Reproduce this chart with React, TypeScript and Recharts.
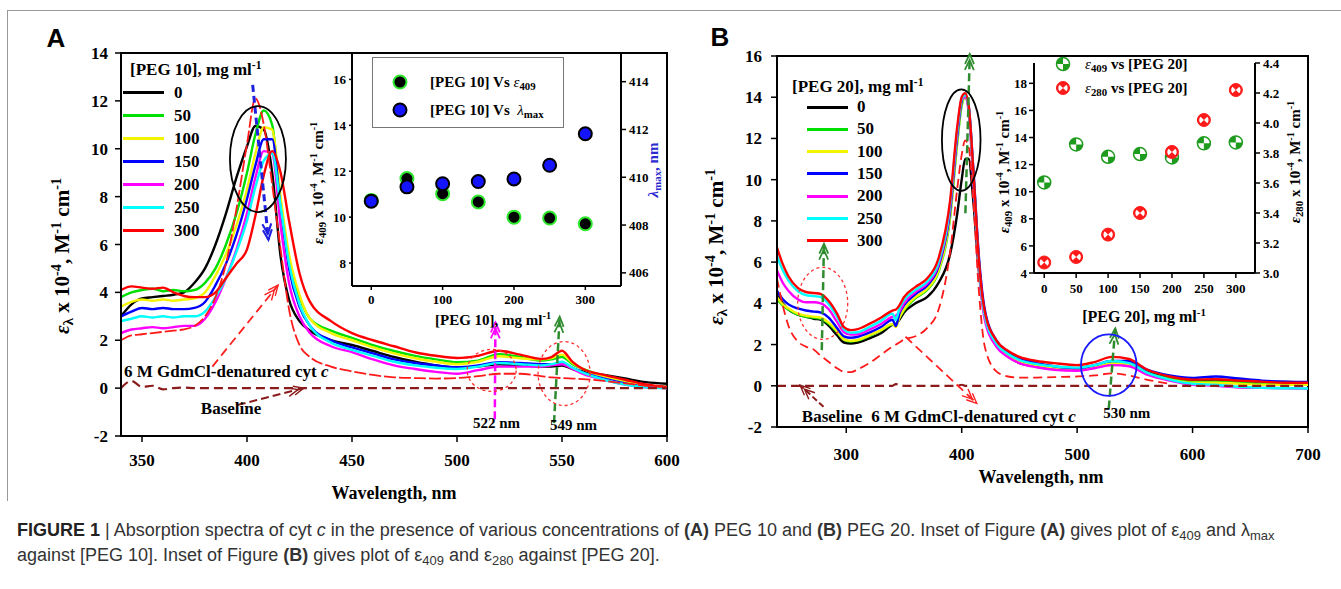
import React from 'react';
import {
  LineChart, Line, XAxis, YAxis, ReferenceArea, ReferenceDot, ReferenceLine,
  ScatterChart, Scatter,
} from 'recharts';

const SERIF = '"Liberation Serif", "Times New Roman", serif';
const SANS = '"Liberation Sans", Arial, sans-serif';

// ---------- panel A: PEG 10 spectra ----------
const A_WAVELENGTH = [340, 345, 350, 355, 360, 365, 370, 375, 380, 385, 390, 395, 400, 404, 408, 412, 416, 420, 425, 430, 440, 450, 460, 470, 480, 490, 500, 510, 520, 530, 540, 545, 550, 555, 560, 570, 580, 590, 600];
const A_PEG_0 = [3.0, 3.5, 3.75, 3.8, 3.85, 3.9, 4.0, 4.4, 5.0, 6.0, 7.3, 8.8, 10.1, 10.95, 10.8, 9.0, 5.5, 3.7, 2.8, 2.4, 2.0, 1.8, 1.55, 1.3, 1.1, 0.95, 0.87, 0.9, 1.0, 0.95, 0.9, 0.9, 0.94, 0.8, 0.7, 0.55, 0.4, 0.25, 0.18];
const A_PEG_50 = [3.8, 4.0, 4.1, 4.15, 4.05, 4.1, 4.05, 4.1, 4.4, 5.0, 6.0, 7.3, 9.0, 10.6, 11.6, 11.0, 7.6, 5.3, 3.8, 2.9, 2.4, 2.1, 1.8, 1.55, 1.35, 1.2, 1.08, 1.15, 1.42, 1.3, 1.15, 1.2, 1.3, 1.0, 0.8, 0.5, 0.3, 0.12, 0.05];
const A_PEG_100 = [3.4, 3.6, 3.7, 3.65, 3.7, 3.65, 3.7, 3.75, 4.0, 4.7, 5.6, 6.8, 8.3, 9.8, 10.9, 10.8, 8.0, 5.6, 3.9, 2.9, 2.3, 2.0, 1.7, 1.45, 1.25, 1.1, 1.0, 1.1, 1.33, 1.25, 1.2, 1.25, 1.4, 1.05, 0.8, 0.5, 0.3, 0.1, 0.0];
const A_PEG_150 = [3.0, 3.2, 3.35, 3.3, 3.35, 3.3, 3.3, 3.35, 3.6, 4.3, 5.2, 6.4, 7.9, 9.3, 10.4, 10.4, 7.5, 5.0, 3.4, 2.6, 2.0, 1.7, 1.45, 1.2, 1.05, 0.95, 0.87, 0.95, 1.08, 1.05, 1.0, 1.0, 1.05, 0.85, 0.65, 0.4, 0.2, 0.05, 0.0];
const A_PEG_200 = [2.3, 2.45, 2.5, 2.55, 2.5, 2.55, 2.6, 2.6, 2.9, 3.6, 4.6, 5.8, 7.3, 8.8, 9.9, 9.8, 6.8, 4.4, 3.0, 2.3, 1.75, 1.5, 1.2, 0.95, 0.8, 0.68, 0.6, 0.75, 0.9, 0.9, 0.9, 0.95, 1.0, 0.8, 0.6, 0.35, 0.15, 0.03, 0.0];
const A_PEG_250 = [2.8, 2.9, 3.0, 2.95, 3.0, 2.95, 3.0, 3.0, 3.2, 3.8, 4.6, 5.7, 7.0, 8.4, 9.5, 9.8, 7.6, 5.2, 3.5, 2.6, 1.9, 1.6, 1.35, 1.1, 0.95, 0.85, 0.8, 0.9, 1.05, 1.0, 0.95, 1.0, 1.1, 0.85, 0.65, 0.35, 0.15, 0.03, 0.0];
const A_PEG_300 = [4.1, 4.25, 4.2, 4.15, 4.2, 4.0, 3.85, 3.8, 3.8, 4.0, 4.6, 5.2, 5.8, 7.2, 8.9, 9.9, 9.0, 7.0, 4.8, 3.6, 2.8, 2.3, 2.0, 1.75, 1.5, 1.35, 1.26, 1.35, 1.56, 1.4, 1.22, 1.3, 1.56, 1.1, 0.8, 0.55, 0.35, 0.15, 0.05];
const A_DENATURED = [2.0, 2.2, 2.25, 2.3, 2.35, 2.4, 2.45, 2.6, 3.0, 3.8, 5.2, 7.5, 10.2, 12.1, 11.0, 8.5, 5.8, 3.3, 1.8, 1.3, 0.9, 0.7, 0.55, 0.45, 0.42, 0.4, 0.42, 0.5, 0.6, 0.6, 0.5, 0.45, 0.42, 0.4, 0.38, 0.3, 0.2, 0.1, 0.05];
const A_BASELINE = [0.0, 0.3, 0.05, 0.1, -0.05, 0.0, 0.02, 0.0, 0.0, 0.0, 0.0, 0.0, 0.0, 0.0, 0.0, 0.0, 0.0, 0.0, 0.0, 0.0, 0.0, 0.0, 0.0, 0.0, 0.0, 0.0, 0.0, 0.0, 0.0, 0.0, 0.0, 0.0, 0.0, 0.0, 0.0, 0.0, 0.0, 0.0, 0.0];

// ---------- panel B: PEG 20 spectra ----------
const B_WAVELENGTH = [240, 245, 250, 258, 265, 272, 278, 285, 292, 298, 304, 310, 320, 330, 340, 343, 346, 350, 360, 370, 380, 390, 396, 400, 403, 406, 410, 415, 420, 430, 440, 450, 465, 480, 500, 515, 530, 545, 560, 580, 600, 620, 640, 660, 680, 700];
const B_PEG_0 = [4.4, 4.0, 3.7, 3.45, 3.35, 3.25, 3.2, 2.9, 2.45, 2.1, 2.05, 2.1, 2.3, 2.55, 2.95, 3.0, 3.2, 3.55, 4.0, 4.3, 5.0, 6.4, 8.3, 10.0, 11.0, 11.0, 9.0, 5.5, 3.4, 2.1, 1.5, 1.1, 0.95, 0.88, 0.8, 0.95, 1.1, 1.05, 0.7, 0.4, 0.25, 0.3, 0.25, 0.2, 0.18, 0.17];
const B_PEG_50 = [4.2, 3.9, 3.7, 3.45, 3.35, 3.3, 3.25, 3.0, 2.6, 2.25, 2.15, 2.2, 2.42, 2.68, 2.98, 3.0, 3.3, 3.65, 4.25, 4.65, 5.55, 8.2, 11.7, 13.6, 14.0, 13.5, 10.4, 5.9, 3.4, 2.0, 1.5, 1.2, 1.0, 0.88, 0.82, 0.95, 1.15, 1.1, 0.65, 0.35, 0.2, 0.2, 0.15, 0.1, 0.1, 0.1];
const B_PEG_100 = [4.3, 3.95, 3.75, 3.5, 3.4, 3.35, 3.3, 3.05, 2.65, 2.25, 2.18, 2.22, 2.45, 2.7, 3.0, 2.85, 3.3, 3.7, 4.3, 4.7, 5.6, 8.3, 11.8, 13.7, 14.0, 13.4, 10.3, 5.9, 3.4, 2.0, 1.5, 1.2, 1.0, 0.88, 0.8, 0.92, 1.1, 1.05, 0.6, 0.3, 0.15, 0.15, 0.1, 0.05, 0.05, 0.05];
const B_PEG_150 = [4.6, 4.2, 3.95, 3.75, 3.65, 3.6, 3.55, 3.3, 2.8, 2.4, 2.33, 2.38, 2.58, 2.85, 3.2, 2.9, 3.5, 3.9, 4.45, 4.85, 5.8, 8.5, 12.0, 13.8, 14.1, 13.6, 10.6, 6.2, 3.7, 2.2, 1.65, 1.35, 1.1, 0.95, 0.85, 1.0, 1.2, 1.2, 0.8, 0.5, 0.38, 0.45, 0.35, 0.25, 0.2, 0.18];
const B_PEG_200 = [5.6, 5.0, 4.6, 4.2, 4.05, 4.05, 4.0, 3.7, 3.1, 2.6, 2.48, 2.5, 2.72, 3.0, 3.35, 3.4, 3.6, 4.0, 4.55, 4.95, 5.9, 8.7, 12.2, 13.9, 14.0, 13.3, 10.0, 5.6, 3.2, 1.9, 1.4, 1.1, 0.9, 0.78, 0.73, 0.85, 1.0, 0.95, 0.55, 0.25, 0.05, 0.0, -0.08, -0.1, -0.12, -0.14];
const B_PEG_250 = [6.3, 5.6, 5.1, 4.6, 4.4, 4.35, 4.3, 3.95, 3.35, 2.75, 2.58, 2.6, 2.85, 3.15, 3.5, 3.2, 3.75, 4.15, 4.65, 5.05, 6.0, 8.8, 12.3, 13.9, 14.1, 13.5, 10.3, 5.8, 3.4, 2.05, 1.55, 1.25, 1.05, 0.95, 0.88, 1.0, 1.2, 1.1, 0.65, 0.3, 0.1, 0.05, -0.05, -0.1, -0.12, -0.13];
const B_PEG_300 = [6.7, 5.9, 5.3, 4.75, 4.55, 4.5, 4.45, 4.1, 3.5, 2.85, 2.7, 2.75, 3.0, 3.3, 3.65, 3.7, 3.9, 4.3, 4.8, 5.2, 6.2, 9.0, 12.5, 14.0, 14.2, 13.6, 10.5, 6.0, 3.6, 2.2, 1.7, 1.4, 1.2, 1.1, 1.0, 1.15, 1.4, 1.3, 0.8, 0.45, 0.3, 0.32, 0.25, 0.2, 0.15, 0.15];
const B_DENATURED = [5.2, 3.9, 2.9, 2.15, 1.9, 1.75, 1.45, 1.15, 0.85, 0.68, 0.66, 0.8, 1.1, 1.5, 1.9, 2.0, 2.1, 2.25, 2.4, 2.8, 3.7, 6.5, 9.5, 11.2, 11.9, 11.6, 9.0, 4.5, 1.9, 0.7, 0.45, 0.4, 0.4, 0.42, 0.45, 0.5, 0.6, 0.5, 0.3, 0.1, null, null, null, null, null, null];
const B_BASELINE = [0.0, 0.0, 0.0, 0.0, 0.0, 0.0, 0.0, 0.0, 0.0, 0.0, 0.0, 0.0, 0.0, 0.0, 0.0, 0.08, 0.05, 0.0, 0.0, 0.0, 0.0, 0.0, 0.0, 0.05, 0.0, 0.0, 0.0, 0.0, 0.0, 0.0, 0.0, 0.0, 0.0, 0.0, 0.0, 0.0, 0.0, 0.0, 0.0, 0.0, 0.0, 0.0, 0.0, 0.0, 0.0, 0.0];

// ---------- insets ----------
const PEG_CONC = [0, 50, 100, 150, 200, 250, 300];
const A_EPS409 = [10.73, 11.68, 11.02, 10.66, 10.0, 9.96, 9.71];
const A_LAMBDA_MAX = [409.0, 409.6, 409.73, 409.82, 409.93, 410.5, 411.82];
const B_EPS409 = [10.68, 13.49, 12.58, 12.78, 12.53, 13.57, 13.64];
const B_EPS280 = [3.07, 3.107, 3.256, 3.4, 3.807, 4.02, 4.22];

// ---------- ticks / labels ----------
const A_X_TICKS = [350, 400, 450, 500, 550, 600];
const A_Y_TICKS = [-2, 0, 2, 4, 6, 8, 10, 12, 14];
const B_X_TICKS = [300, 400, 500, 600, 700];
const B_Y_TICKS = [-2, 0, 2, 4, 6, 8, 10, 12, 14, 16];
const IA_X_TICKS = [0, 100, 200, 300];
const IA_L_TICKS = [8, 10, 12, 14, 16];
const IA_R_TICKS = [406, 408, 410, 412, 414];
const IB_X_TICKS = [0, 50, 100, 150, 200, 250, 300];
const IB_L_TICKS = [4, 6, 8, 10, 12, 14, 16, 18];
const IB_R_TICKS = [3.0, 3.2, 3.4, 3.6, 3.8, 4.0, 4.2, 4.4];
const LEVEL_LABELS = ['0', '50', '100', '150', '200', '250', '300'];
const LEVEL_COLORS = ['#000000', '#00e000', '#f4f400', '#0000ff', '#ff00ff', '#00ffff', '#ff0000'];

const A_SETS = [A_PEG_0, A_PEG_50, A_PEG_100, A_PEG_150, A_PEG_200, A_PEG_250, A_PEG_300];
const B_SETS = [B_PEG_0, B_PEG_50, B_PEG_100, B_PEG_150, B_PEG_200, B_PEG_250, B_PEG_300];

const pts = (xs: number[], ys: (number | null)[]) => xs.map((x, i) => ({ x, y: ys[i] }));

const axisLine = { stroke: '#000', strokeWidth: 2 };
const tickLine = { stroke: '#000', strokeWidth: 1.5 };
const mainTick = { fill: '#000', fontSize: 17, fontWeight: 700, fontFamily: SERIF };
const insetTick = { fill: '#000', fontSize: 13, fontWeight: 700, fontFamily: SERIF };

const Sup = ({ children }: any) => <span style={{ fontSize: '0.68em', verticalAlign: '0.55em', lineHeight: 0 }}>{children}</span>;
const Sub = ({ children }: any) => <span style={{ fontSize: '0.72em', verticalAlign: '-0.3em', lineHeight: 0 }}>{children}</span>;

// absolutely placed text, centred on (x, y)
const Txt = ({ x, y, rot = 0, size = 16, bold = true, color = '#000', font = SERIF, children }: any) => (
  <div style={{
    position: 'absolute', left: x, top: y, whiteSpace: 'nowrap', lineHeight: 1,
    transform: `translate(-50%, -50%) rotate(${rot}deg)`,
    fontFamily: font, fontSize: size, fontWeight: bold ? 700 : 400, color,
  }}>{children}</div>
);

// ---- annotation helpers (positions in data units) ----
const ellipse = (key: string, x: number, y: number, rx: number, ry: number, stroke: string, dash?: string, w = 1.6) => (
  <ReferenceDot key={key} x={x} y={y} r={1} ifOverflow="visible"
    shape={(p: any) => <ellipse cx={p.cx} cy={p.cy} rx={rx} ry={ry} fill="none" stroke={stroke} strokeWidth={w} strokeDasharray={dash} />} />
);

const arrow = (key: string, from: [number, number], to: [number, number], color: string, w: number, dash: string) => (
  <ReferenceLine key={key} segment={[{ x: from[0], y: from[1] }, { x: to[0], y: to[1] }]} ifOverflow="visible"
    shape={(p: any) => {
      const { x1, y1, x2, y2 } = p;
      const a = Math.atan2(y2 - y1, x2 - x1);
      const L = 11;
      const s = 0.42;
      const head = (ox: number, oy: number) =>
        `M${ox - L * Math.cos(a - s)},${oy - L * Math.sin(a - s)} L${ox},${oy} L${ox - L * Math.cos(a + s)},${oy - L * Math.sin(a + s)}`;
      return (
        <g>
          <line x1={x1} y1={y1} x2={x2} y2={y2} stroke={color} strokeWidth={w} strokeDasharray={dash} />
          <path d={head(x2, y2)} fill="none" stroke={color} strokeWidth={Math.max(1.4, w * 0.7)} />
          <path d={head(x2 - 6 * Math.cos(a), y2 - 6 * Math.sin(a))} fill="none" stroke={color} strokeWidth={Math.max(1.4, w * 0.7)} />
        </g>
      );
    }} />
);

const note = (key: string, x: number, y: number, content: React.ReactNode, size = 17) => (
  <ReferenceDot key={key} x={x} y={y} r={1} ifOverflow="visible"
    shape={(p: any) => (
      <text x={p.cx} y={p.cy} fontFamily={SERIF} fontWeight={700} fontSize={size} fill="#000">{content}</text>
    )} />
);

const denaturedText = <>6 M GdmCl-denatured cyt <tspan fontStyle="italic">c</tspan></>;

const spectra = (xs: number[], sets: number[][]) => sets.map((vals, i) => (
  <Line key={`s${i}`} data={pts(xs, vals)} dataKey="y" type="monotone" stroke={LEVEL_COLORS[i]} strokeWidth={2.4}
    dot={false} activeDot={false} isAnimationActive={false} />
));

function SpectrumA() {
  return (
    <div style={{ position: 'absolute', left: 0, top: 0 }}>
      <LineChart width={700} height={500} margin={{ top: 53, right: 33, left: 71, bottom: 34 }}>
        <XAxis type="number" dataKey="x" domain={[340, 600]} ticks={A_X_TICKS} interval={0} allowDataOverflow
          height={30} tickSize={6} tickMargin={12} axisLine={axisLine} tickLine={tickLine} tick={mainTick} />
        <YAxis type="number" domain={[-2, 14]} ticks={A_Y_TICKS} interval={0} allowDataOverflow
          width={50} tickSize={6} tickMargin={7} axisLine={axisLine} tickLine={tickLine} tick={mainTick} />
        <ReferenceArea x1={340} x2={600} y1={-2} y2={14} fill="none" stroke="#000" strokeWidth={2} />
        {spectra(A_WAVELENGTH, A_SETS)}
        <Line data={pts(A_WAVELENGTH, A_DENATURED)} dataKey="y" type="monotone" stroke="#ff1a1a" strokeWidth={1.8}
          strokeDasharray="12 3" dot={false} activeDot={false} isAnimationActive={false} />
        <Line data={pts(A_WAVELENGTH, A_BASELINE)} dataKey="y" type="monotone" stroke="#8b1a1a" strokeWidth={2.2}
          strokeDasharray="9 5" dot={false} activeDot={false} isAnimationActive={false} />
        {ellipse('e1', 405.2, 9.57, 28, 53, '#000', undefined, 1.8)}
        {ellipse('e2', 516.5, 0.74, 24.5, 21, '#ff3030', '3 3', 1.3)}
        {ellipse('e3', 551, 0.61, 26, 32, '#ff3030', '3 3', 1.3)}
        {arrow('a1', [402.7, 12.67], [410.2, 6.2], '#2020e0', 3, '7 4')}
        {arrow('a2', [383.5, 0.9], [414.8, 4.3], '#ff2020', 1.8, '9 5')}
        {arrow('a3', [395.6, -0.7], [427, 0.0], '#8b1a1a', 2, '8 4')}
        {arrow('a4', [518, -1.3], [518.3, 2.75], '#ff00ff', 2.5, '8 4')}
        {arrow('a5', [546.2, -1.46], [548.9, 2.99], '#2e8b2e', 2.5, '8 4')}
        {note('t1', 341.4, 0.47, denaturedText)}
        {note('t2', 378, -1.1, 'Baseline')}
        {note('t3', 507.6, -1.65, '522 nm', 15)}
        {note('t4', 544.3, -1.75, '549 nm', 15)}
      </LineChart>
    </div>
  );
}

function SpectrumB() {
  return (
    <div style={{ position: 'absolute', left: 700, top: 0 }}>
      <LineChart width={640} height={500} margin={{ top: 56, right: 32, left: 27, bottom: 43 }}>
        <XAxis type="number" dataKey="x" domain={[240, 700]} ticks={B_X_TICKS} interval={0} allowDataOverflow
          height={30} tickSize={6} tickMargin={15} axisLine={axisLine} tickLine={tickLine} tick={mainTick} />
        <YAxis type="number" domain={[-2, 16]} ticks={B_Y_TICKS} interval={0} allowDataOverflow
          width={50} tickSize={6} tickMargin={9} axisLine={axisLine} tickLine={tickLine} tick={mainTick} />
        <ReferenceArea x1={240} x2={700} y1={-2} y2={16} fill="none" stroke="#000" strokeWidth={2} />
        {spectra(B_WAVELENGTH, B_SETS)}
        <Line data={pts(B_WAVELENGTH, B_DENATURED)} dataKey="y" type="monotone" stroke="#ff1a1a" strokeWidth={1.8}
          strokeDasharray="9 5" dot={false} activeDot={false} isAnimationActive={false} />
        <Line data={pts(B_WAVELENGTH, B_BASELINE)} dataKey="y" type="monotone" stroke="#8b1a1a" strokeWidth={2.2}
          strokeDasharray="9 5" dot={false} activeDot={false} isAnimationActive={false} />
        {ellipse('e1', 399.6, 11.92, 19.3, 50.8, '#000', undefined, 1.8)}
        {ellipse('e2', 279.6, 4.0, 25, 36, '#ff3030', '3 3', 1.3)}
        {ellipse('e3', 527.4, 1.0, 27.8, 30.8, '#1a1aff', undefined, 1.8)}
        {arrow('a1', [278.8, 1.73], [280.7, 6.9], '#2e8b2e', 2.5, '8 4')}
        {arrow('a2', [403.2, 8.37], [407, 16.1], '#2e8b2e', 2.5, '8 4')}
        {arrow('a3', [527.4, -1.1], [533, 2.79], '#2e8b2e', 2.5, '8 4')}
        {arrow('a4', [351.3, 2.38], [413, -0.85], '#ff2020', 1.8, '9 5')}
        {arrow('a5', [280.3, -1.02], [260, 0.03], '#8b1a1a', 2, '6 3')}
        {note('t1', 261.5, -1.75, 'Baseline')}
        {note('t2', 321.6, -1.77, denaturedText)}
        {note('t3', 522.6, -1.57, '530 nm', 15)}
      </LineChart>
    </div>
  );
}

// ---- inset markers ----
const blackGreen = (p: any) => <circle cx={p.cx} cy={p.cy} r={6.5} fill="#000" stroke="#2ee82e" strokeWidth={2} />;
const blueDot = (p: any) => <circle cx={p.cx} cy={p.cy} r={6.5} fill="#1414ff" stroke="#000" strokeWidth={2} />;
const greenQuad = (p: any) => {
  const { cx, cy } = p;
  const r = 6.5;
  return (
    <g>
      <circle cx={cx} cy={cy} r={r} fill="#fff" stroke="#1e9b1e" strokeWidth={1.5} />
      <path d={`M${cx},${cy} L${cx - r},${cy} A${r},${r} 0 0 1 ${cx},${cy - r} Z`} fill="#1e9b1e" />
      <path d={`M${cx},${cy} L${cx + r},${cy} A${r},${r} 0 0 1 ${cx},${cy + r} Z`} fill="#1e9b1e" />
    </g>
  );
};
const redBow = (p: any) => {
  const { cx, cy } = p;
  const r = 6.5;
  const q = r - 1.8;
  const c = Math.cos(Math.PI / 4) * q;
  return (
    <g>
      <circle cx={cx} cy={cy} r={r} fill="#ff1a1a" stroke="#ff1a1a" strokeWidth={1} />
      <path d={`M${cx},${cy} L${cx - c},${cy - c} A${q},${q} 0 0 0 ${cx - c},${cy + c} Z`} fill="#fff" />
      <path d={`M${cx},${cy} L${cx + c},${cy - c} A${q},${q} 0 0 1 ${cx + c},${cy + c} Z`} fill="#fff" />
    </g>
  );
};

function InsetA() {
  return (
    <div style={{ position: 'absolute', left: 290, top: 40 }}>
      <ScatterChart width={400} height={300} margin={{ top: 13, right: 29, left: 22, bottom: 24 }}>
        <XAxis type="number" dataKey="x" domain={[-27, 350]} ticks={IA_X_TICKS} interval={0} allowDataOverflow
          height={30} tickSize={4} tickMargin={5} axisLine={axisLine} tickLine={tickLine} tick={insetTick} />
        <YAxis yAxisId="L" type="number" dataKey="y" domain={[7, 17.15]} ticks={IA_L_TICKS} interval={0} allowDataOverflow
          width={40} tickSize={3} tickMargin={3} axisLine={axisLine} tickLine={tickLine} tick={insetTick} />
        <YAxis yAxisId="R" orientation="right" type="number" dataKey="y" domain={[405.45, 415.2]} ticks={IA_R_TICKS} interval={0} allowDataOverflow
          width={40} tickSize={5} tickMargin={3} axisLine={axisLine} tickLine={tickLine} tick={insetTick} />
        <Scatter yAxisId="L" data={pts(PEG_CONC, A_EPS409)} shape={blackGreen} isAnimationActive={false} />
        <Scatter yAxisId="R" data={pts(PEG_CONC, A_LAMBDA_MAX)} shape={blueDot} isAnimationActive={false} />
      </ScatterChart>
    </div>
  );
}

function InsetB() {
  return (
    <div style={{ position: 'absolute', left: 960, top: 45 }}>
      <ScatterChart width={360} height={290} margin={{ top: 18, right: 25, left: 34, bottom: 32 }}>
        <XAxis type="number" dataKey="x" domain={[-16, 330]} ticks={IB_X_TICKS} interval={0} allowDataOverflow
          height={30} tickSize={5} tickMargin={6} axisLine={axisLine} tickLine={tickLine} tick={insetTick} />
        <YAxis yAxisId="L" type="number" dataKey="y" domain={[4, 19.5]} ticks={IB_L_TICKS} interval={0} allowDataOverflow
          width={40} tickSize={5} tickMargin={2} axisLine={axisLine} tickLine={tickLine} tick={insetTick} />
        <YAxis yAxisId="R" orientation="right" type="number" dataKey="y" domain={[3.0, 4.4]} ticks={IB_R_TICKS} interval={0} allowDataOverflow
          width={40} tickSize={5} tickMargin={3} axisLine={axisLine} tickLine={tickLine} tick={insetTick}
          tickFormatter={(v: number) => v.toFixed(1)} />
        <Scatter yAxisId="L" data={pts(PEG_CONC, B_EPS409)} shape={greenQuad} isAnimationActive={false} />
        <Scatter yAxisId="R" data={pts(PEG_CONC, B_EPS280)} shape={redBow} isAnimationActive={false} />
      </ScatterChart>
    </div>
  );
}

const SpectrumLegend = ({ titleX, titleY, title, lineX, labelX, y0, step }: any) => (
  <>
    <div style={{ position: 'absolute', left: titleX, top: titleY - 10, fontFamily: SERIF, fontWeight: 700, fontSize: 17, whiteSpace: 'nowrap', lineHeight: '20px' }}>{title}</div>
    {LEVEL_LABELS.map((lbl, i) => (
      <React.Fragment key={lbl}>
        <div style={{ position: 'absolute', left: lineX, top: y0 + step * i - 1.5, width: 41, height: 3, background: LEVEL_COLORS[i] }} />
        <div style={{ position: 'absolute', left: labelX, top: y0 + step * i - 10, fontFamily: SERIF, fontWeight: 700, fontSize: 17, lineHeight: '20px' }}>{lbl}</div>
      </React.Fragment>
    ))}
  </>
);

const MarkerSvg = ({ x, y, shape }: any) => (
  <svg style={{ position: 'absolute', left: x - 10, top: y - 10 }} width={20} height={20}>
    {shape({ cx: 10, cy: 10 })}
  </svg>
);

const epsTitle = (sub: string) => (
  <><i>ε</i><Sub>{sub}</Sub> x 10<Sup>-4</Sup>, M<Sup>-1</Sup> cm<Sup>-1</Sup></>
);

export default function App() {
  return (
    <div style={{ position: 'absolute', left: 0, top: 0, width: 1341, height: 589, background: '#fff', overflow: 'hidden' }}>
      {/* frame */}
      <div style={{ position: 'absolute', left: 7, top: 10, width: 1340, height: 490, borderTop: '1.5px solid #999', borderLeft: '1.5px solid #999' }} />

      <SpectrumA />
      <SpectrumB />
      <InsetA />
      <InsetB />

      {/* panel letters */}
      <Txt x={56} y={38} size={26} font={SANS}>A</Txt>
      <Txt x={720} y={37} size={26} font={SANS}>B</Txt>

      {/* main axis titles */}
      <Txt x={62} y={256} rot={-90} size={21}>{epsTitle('λ')}</Txt>
      <Txt x={716} y={247} rot={-90} size={21}>{epsTitle('λ')}</Txt>
      <Txt x={394} y={493} size={18}>Wavelength, nm</Txt>
      <Txt x={1041} y={477} size={18}>Wavelength, nm</Txt>

      {/* main legends */}
      <SpectrumLegend titleX={130} titleY={70} title={<>[PEG 10], mg ml<Sup>-1</Sup></>} lineX={123} labelX={174} y0={92.7} step={23} />
      <SpectrumLegend titleX={792} titleY={87} title={<>[PEG 20], mg ml<Sup>-1</Sup></>} lineX={807} labelX={857} y0={107} step={22.3} />

      {/* inset A titles + legend */}
      <Txt x={318} y={183} rot={-90} size={15}>{epsTitle('409')}</Txt>
      <Txt x={653} y={170} rot={-90} size={15} color="#2a2ad0"><i>λ</i><Sub>max</Sub>, nm</Txt>
      <Txt x={493} y={320} size={15}>[PEG 10], mg ml<Sup>-1</Sup></Txt>
      <div style={{ position: 'absolute', left: 372, top: 57, width: 192, height: 71, border: '1px solid #777', boxSizing: 'border-box' }} />
      <MarkerSvg x={400} y={82} shape={blackGreen} />
      <MarkerSvg x={400} y={110} shape={blueDot} />
      <div style={{ position: 'absolute', left: 430, top: 72, fontFamily: SERIF, fontWeight: 700, fontSize: 15, lineHeight: '20px', whiteSpace: 'nowrap' }}>[PEG 10] Vs <i style={{ fontWeight: 400 }}>ε</i><Sub>409</Sub></div>
      <div style={{ position: 'absolute', left: 430, top: 100, fontFamily: SERIF, fontWeight: 700, fontSize: 15, lineHeight: '20px', whiteSpace: 'nowrap' }}>[PEG 10] Vs&nbsp; <i style={{ fontWeight: 400 }}>λ</i><Sub>max</Sub></div>

      {/* inset B titles + legend */}
      <Txt x={1004} y={172} rot={-90} size={15}>{epsTitle('409')}</Txt>
      <Txt x={1295} y={162} rot={-90} size={15}>{epsTitle('280')}</Txt>
      <Txt x={1144} y={317} size={16}>[PEG 20], mg ml<Sup>-1</Sup></Txt>
      <MarkerSvg x={1063} y={64} shape={greenQuad} />
      <MarkerSvg x={1063} y={88} shape={redBow} />
      <div style={{ position: 'absolute', left: 1085, top: 54, fontFamily: SERIF, fontWeight: 700, fontSize: 15, lineHeight: '20px', whiteSpace: 'nowrap' }}><i style={{ fontWeight: 400 }}>ε</i><Sub>409</Sub> vs [PEG 20]</div>
      <div style={{ position: 'absolute', left: 1085, top: 78, fontFamily: SERIF, fontWeight: 700, fontSize: 15, lineHeight: '20px', whiteSpace: 'nowrap' }}><i style={{ fontWeight: 400 }}>ε</i><Sub>280</Sub> vs [PEG 20]</div>

      {/* caption */}
      <div style={{ position: 'absolute', left: 17, top: 518, width: 1320, fontFamily: SANS, fontSize: 18, lineHeight: '25px', color: '#333', whiteSpace: 'nowrap' }}>
        <b style={{ color: '#222' }}>FIGURE 1</b> | Absorption spectra of cyt <i>c</i> in the presence of various concentrations of <b>(A)</b> PEG 10 and <b>(B)</b> PEG 20. Inset of Figure <b>(A)</b> gives plot of ε<Sub>409</Sub> and λ<Sub>max</Sub>
        <br />
        against [PEG 10]. Inset of Figure <b>(B)</b> gives plot of ε<Sub>409</Sub> and ε<Sub>280</Sub> against [PEG 20].
      </div>
    </div>
  );
}
